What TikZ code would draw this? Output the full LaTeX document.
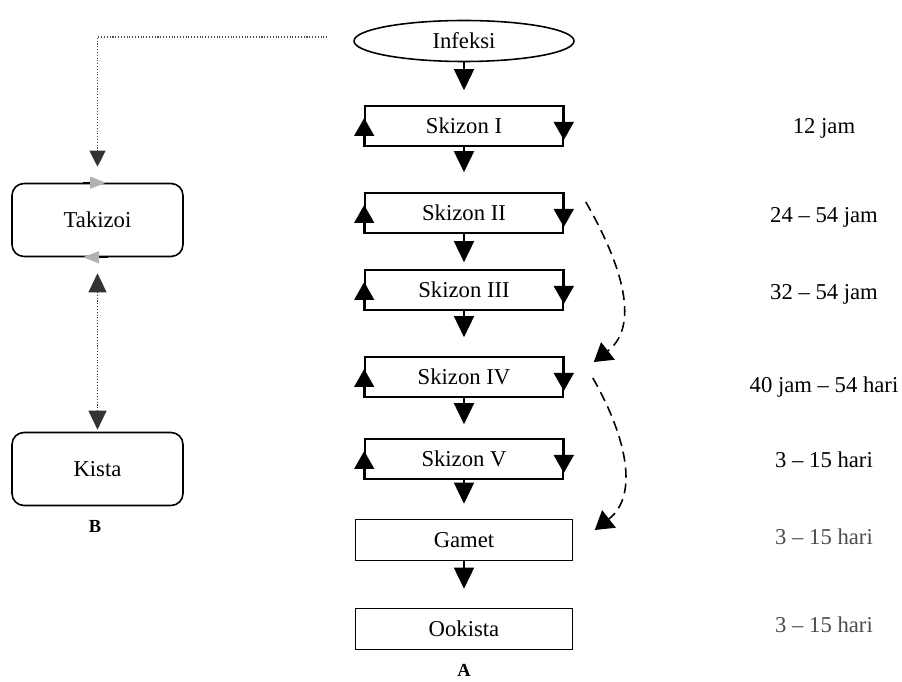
\documentclass[tikz,border=0pt]{standalone}
\usepackage{fontspec}
\setmainfont{Liberation Serif}
\usetikzlibrary{arrows.meta,shapes.geometric}

\begin{document}
\begin{tikzpicture}[>={Triangle[length=.42cm,width=.4cm]}, line width=.9pt,
    font=\fontsize{12.9}{15}\selectfont,
    kotak/.style={draw, minimum width=3.96cm, minimum height=.8cm, inner sep=0pt},
    bulat/.style={draw, rounded corners=.24cm, minimum width=3.42cm, minimum height=1.46cm},
    sisi/.style={-{Triangle[length=.36cm,width=.4cm]}},
    putus/.style={dash pattern=on .2cm off .12cm, -{Triangle[length=.36cm,width=.44cm]}},
    abu/.style={-{Triangle[color=black!30,length=.32cm,width=.24cm]}},
    huruf/.style={font=\fontsize{10.5}{12}\selectfont\bfseries}]
\useasboundingbox (0,0) rectangle (18.04,13.62);

\node[draw, ellipse, minimum width=4.4cm, minimum height=.82cm, inner sep=0pt] (inf) at (9.28,12.8) {Infeksi};
\node[kotak] (sk1) at (9.28,11.1) {Skizon I};
\node[kotak] (sk2) at (9.28,9.36) {Skizon II};
\node[kotak] (sk3) at (9.28,7.82) {Skizon III};
\node[kotak] (sk4) at (9.28,6.08) {Skizon IV};
\node[kotak] (sk5) at (9.28,4.44) {Skizon V};
\node[kotak, minimum width=4.34cm, minimum height=.82cm] (gam) at (9.28,2.82) {Gamet};
\node[kotak, minimum width=4.34cm, minimum height=.82cm] (ook) at (9.28,1.04) {Ookista};
\node[huruf] (hA) at (9.28,.22) {A};

\draw[->, shorten >=.3cm](inf)--(sk1);
\draw[->, shorten >=.4cm](sk1)--(sk2);
\draw[->, shorten >=.14cm](sk2)--(sk3);
\draw[->, shorten >=.38cm](sk3)--(sk4);
\draw[->, shorten >=.28cm](sk4)--(sk5);
\draw[->, shorten >=.3cm](sk5)--(gam);
\draw[->, shorten >=.38cm](gam)--(ook);

\draw[sisi](sk1.south west)--([yshift=.16cm]sk1.west);
\draw[sisi](sk1.north east)--([yshift=-.28cm]sk1.east);
\draw[sisi](sk2.south west)--([yshift=.16cm]sk2.west);
\draw[sisi](sk2.north east)--([yshift=-.28cm]sk2.east);
\draw[sisi](sk3.south west)--([yshift=.16cm]sk3.west);
\draw[sisi](sk3.north east)--([yshift=-.28cm]sk3.east);
\draw[sisi](sk4.south west)--([yshift=.16cm]sk4.west);
\draw[sisi](sk4.north east)--([yshift=-.28cm]sk4.east);
\draw[sisi](sk5.south west)--([yshift=.16cm]sk5.west);
\draw[sisi](sk5.north east)--([yshift=-.28cm]sk5.east);

\draw[putus]([shift={(.44,.22)}]sk2.east) to[out=-60, in=38] ([shift={(.6,.3)}]sk4.east);
\draw[putus]([shift={(.58,-.02)}]sk4.east) to[out=-60, in=38] ([shift={(.43,.2)}]gam.east);

\node (w1) at (16.48,11.06) {12 jam};
\node (w2) at (16.48,9.28) {24 -- 54 jam};
\node (w3) at (16.48,7.74) {32 -- 54 jam};
\node (w4) at (16.48,5.88) {40 jam -- 54 hari};
\node (w5) at (16.48,4.42) {3 -- 15 hari};
\node[black!70] (w6) at (16.48,2.88) {3 -- 15 hari};
\node[black!70] (w7) at (16.48,1.12) {3 -- 15 hari};

\node[bulat] (tak) at (1.95,9.22) {Takizoi};
\node[bulat] (kis) at (1.95,4.24) {Kista};
\node[huruf] (hB) at (1.9,3.1) {B};

\draw[abu]([xshift=-.3cm]tak.north)--([xshift=.17cm]tak.north);
\draw[abu]([xshift=.2cm]tak.south)--([xshift=-.29cm]tak.south);

\coordinate (ujung) at ([xshift=-.52cm, yshift=.08cm]inf.west);
\draw[densely dotted, black!70, line width=.6pt, -{Triangle[length=.32cm,width=.32cm,color=black!80]}, shorten >=.32cm](ujung)-|(tak.north);
\draw[densely dotted, black!80, line width=.6pt, {Triangle[length=.38cm,width=.36cm]}-{Triangle[length=.38cm,width=.36cm]}, shorten <=.32cm, shorten >=.04cm](tak.south)--(kis.north);

\end{tikzpicture}
\end{document}
